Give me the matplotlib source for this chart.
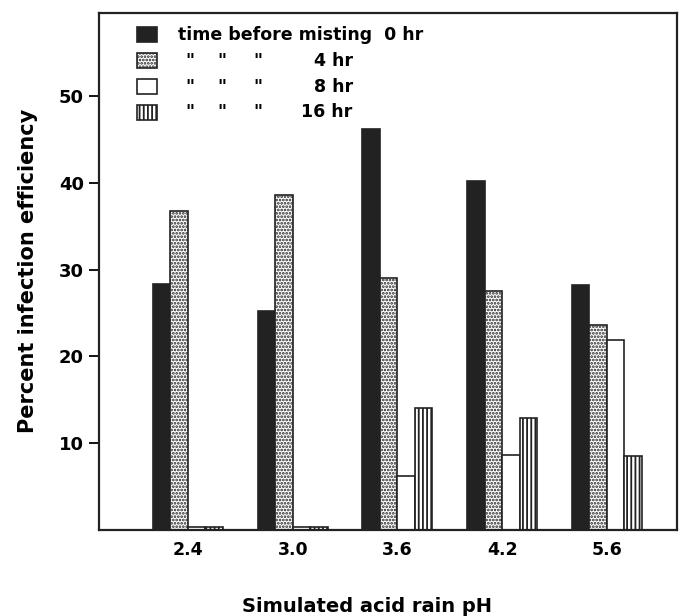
import numpy as np
import matplotlib
matplotlib.use("Agg")
from matplotlib import pyplot as plt

# data
ph_labels = ["2.4", "3.0", "3.6", "4.2", "5.6"]
hr_0 = [28.3, 25.2, 46.2, 40.2, 28.2]
hr_4 = [36.7, 38.6, 29.0, 27.5, 23.6]
hr_8 = [0.3, 0.3, 6.2, 8.6, 21.9]
hr_16 = [0.3, 0.3, 14.0, 12.9, 8.5]
first_label = "time before misting  0 hr"
hour_labels = ["4 hr", "8 hr", "16 hr"]
y_ticks = [10, 20, 30, 40, 50]


def main():
    plt.rcParams["font.family"] = ["DejaVu Sans"]
    plt.rcParams["hatch.linewidth"] = 1.3
    plt.rcParams["hatch.color"] = "#222222"

    fig = plt.figure(figsize=(6.84, 6.16), dpi=100)
    ax = fig.add_axes([0.1447, 0.1404, 0.8451, 0.8385])

    x = np.arange(len(ph_labels))
    w = 0.167
    styles = [
        {"facecolor": "#222222", "hatch": None},
        {"facecolor": "white", "hatch": "....."},
        {"facecolor": "white", "hatch": None},
        {"facecolor": "white", "hatch": "||||"},
    ]
    handles = []
    for i, vals in enumerate([hr_0, hr_4, hr_8, hr_16]):
        b = ax.bar(
            x + (i - 1.5) * w,
            vals,
            width=w,
            facecolor=styles[i]["facecolor"],
            hatch=styles[i]["hatch"],
            edgecolor="#222222",
            linewidth=1.2,
        )
        handles.append(b)

    ax.set_xlim(-0.85, 4.67)
    ax.set_ylim(0, 59.6)
    ax.set_xticks(x)
    ax.set_xticklabels(ph_labels, fontsize=12.5, fontweight="bold")
    ax.set_yticks(y_ticks)
    ax.set_yticklabels([str(t) for t in y_ticks], fontsize=13, fontweight="bold")
    ax.tick_params(axis="x", length=0, pad=8)
    ax.tick_params(axis="y", direction="out", length=7, width=1.3, pad=4)
    for s in ax.spines.values():
        s.set_linewidth(1.6)
        s.set_color("#222222")

    ax.set_xlabel("Simulated acid rain pH", fontsize=14, fontweight="bold")
    ax.xaxis.set_label_coords(0.464, -0.131)
    ax.set_ylabel("Percent infection efficiency", fontsize=15, fontweight="bold", labelpad=15)

    # legend: handles only, text placed alongside
    ax.legend(
        handles,
        ["", "", "", ""],
        loc="upper left",
        bbox_to_anchor=(0.051, 0.990),
        frameon=False,
        prop={"weight": "bold", "size": 12},
        handlelength=1.2,
        handleheight=1.0,
        handletextpad=0.0,
        labelspacing=0.48,
        borderpad=0.0,
    )
    row_y = [0.957, 0.907, 0.857, 0.808]
    txt = {"fontsize": 12.5, "fontweight": "bold", "va": "center", "transform": ax.transAxes}
    ax.text(0.137, row_y[0], first_label, ha="left", **txt)
    for r, lab in zip(row_y[1:], hour_labels):
        for dx in [0.157, 0.213, 0.275]:
            ax.text(dx, r, '"', ha="center", **txt)
        ax.text(0.439, r, lab, ha="right", **txt)

    fig.savefig("out.png", dpi=100)


if __name__ == "__main__":
    main()
